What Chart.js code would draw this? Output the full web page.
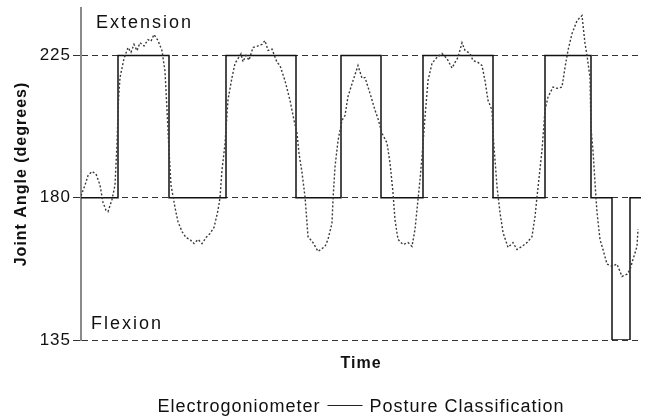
<!DOCTYPE html>
<html>
<head>
<meta charset="utf-8">
<script src="https://cdn.jsdelivr.net/npm/chart.js@4/dist/chart.umd.min.js"></script>
<style>
    html, body { margin: 0; padding: 0; background: #ffffff; }
    .chart-wrap { position: relative; width: 645px; height: 417px; }
</style>
</head>
<body>
<div class="chart-wrap"><canvas id="posture-chart"></canvas></div>
<script>
// Joint angle vs time - electrogoniometer trace and posture classification

// Electrogoniometer trace (time in arbitrary units, angle in degrees)
const goniTime = [
    0, 0.4, 0.7, 1.1, 1.5, 1.9, 2.2, 2.5, 2.7, 3.1, 3.4, 3.6, 3.75, 3.9, 4.3, 4.7, 5.0, 5.3, 5.6, 5.9,
    6.3, 6.7, 7.0, 7.3, 7.7, 8.1, 8.4, 8.6, 8.8, 9.0, 9.4, 9.7, 10.1, 10.5, 10.9, 11.3, 11.7, 12.1, 12.5, 12.9,
    13.3, 13.7, 13.9, 14.1, 14.4, 14.7, 15.1, 15.4, 15.7, 16.0, 16.2, 16.5, 16.8, 17.2, 17.7, 18.1, 18.4, 18.7, 19.1, 19.6,
    19.9, 20.4, 20.9, 21.3, 21.6, 21.8, 22.1, 22.4, 22.5, 22.7, 23.2, 23.7, 24.4, 24.7, 25.1, 25.2, 25.4, 25.7, 26.1, 26.4,
    26.7, 27.2, 27.7, 28.1, 28.4, 28.9, 29.4, 29.7, 30.1, 30.6, 30.9, 31.2, 31.4, 31.7, 32.2, 32.7, 33.1, 33.4, 33.7, 33.9,
    34.1, 34.4, 34.7, 35.1, 35.6, 36.1, 36.6, 37.1, 37.4, 37.7, 38.1, 38.4, 38.9, 39.2, 39.7, 40.1, 40.4, 40.7, 41.1, 41.2,
    41.4, 41.6, 41.9, 42.2, 42.7, 43.2, 43.6, 44.1, 44.6, 45.1, 45.4, 45.6, 46.1, 46.4, 46.7, 47.2, 47.6, 48.1, 48.4, 48.7,
    49.1, 49.6, 50.1, 50.4, 50.6, 50.9, 51.0, 51.2, 51.4, 51.6, 51.9, 52.2, 52.6, 53.1, 53.6, 54.1, 54.6, 54.9, 55.2, 55.6, 55.7
];
const goniAngle = [
    180.6, 184, 187, 188.3, 187.5, 184, 178.5, 176, 175.6, 179.4, 184, 197, 211, 218, 224, 227.5, 226, 228.5, 226.5, 229,
    228, 230, 229.5, 231.6, 229.7, 226.5, 220, 207.7, 195, 184, 176.9, 172.4, 169.3, 167.4, 166.8, 165.5, 166.8, 165.5, 167.4, 168.7,
    170.6, 176, 180, 188.8, 197, 211, 218, 222.5, 224, 225.5, 223, 225, 223.5, 227.5, 228, 228.5, 229.7, 226.6, 227, 222.8,
    221.8, 217, 210.8, 204.5, 200.4, 194, 188, 180.3, 176.2, 167.7, 165.8, 163, 164.6, 166.8, 172, 179.4, 189.8, 198, 204.5, 206,
    212, 217, 221.8, 217.8, 218, 213, 207.7, 205, 200.4, 197.3, 191, 181.6, 173, 166.8, 165.2, 165.8, 164.6, 170, 179.4, 185.7,
    192.9, 205.5, 217, 222.5, 224.4, 225.6, 224, 221, 222.8, 224.4, 229, 226.6, 225.6, 223.4, 222.8, 221.8, 217, 210.8, 207.7, 200.4,
    192, 183.5, 175.3, 169, 164.3, 165.8, 163.6, 164.6, 165.8, 167.7, 174, 180.3, 195, 207.7, 211.8, 215, 214.6, 215, 221.2, 226.6,
    231.9, 236, 237.6, 228.8, 225, 218, 202, 195, 184.7, 175.3, 166.8, 163.6, 159, 158.3, 159, 155.1, 155.8, 157.3, 160.5, 164.6, 170
];

// Posture classification: level held from each change time until the next
const postureTimes  = [0, 3.7, 8.8, 14.5, 21.5, 26.0, 30.0, 34.2, 41.2, 46.4, 51.0, 53.1, 54.9, 56];
const postureLevels = [180, 225, 180, 225, 180, 225, 180, 225, 180, 225, 180, 135, 180, 180];

// Axis ticks and labels
const yTicks = [135, 180, 225];
const seriesNames = ['Electrogoniometer', 'Posture Classification'];

const FONT = "'Liberation Sans', Arial, Helvetica, sans-serif";
Chart.defaults.font.family = FONT;
Chart.defaults.color = '#111';

// Extension / Flexion notes and the plain text legend under the axis
const notesPlugin = {
    id: 'notes',
    beforeDraw(chart) {
        chart.ctx.letterSpacing = '1px';
    },
    afterDraw(chart) {
        const ctx = chart.ctx;
        const area = chart.chartArea;
        ctx.save();
        ctx.fillStyle = '#111';
        ctx.textBaseline = 'alphabetic';
        ctx.textAlign = 'left';
        ctx.font = '18px ' + FONT;
        ctx.letterSpacing = '2px';
        ctx.fillText('Extension', area.left + 15, area.top + 20);
        ctx.fillText('Flexion', area.left + 10, area.bottom - 11);

        // legend: name, solid sample line, name
        ctx.letterSpacing = '1px';
        const w1 = ctx.measureText(seriesNames[0]).width;
        const w2 = ctx.measureText(seriesNames[1]).width;
        const gap = 7, lineLen = 35;
        const total = w1 + gap + lineLen + gap + w2;
        let x = (area.left + area.right) / 2 - total / 2;
        const baseY = 412;
        ctx.fillText(seriesNames[0], x, baseY);
        x += w1 + gap;
        ctx.strokeStyle = '#222';
        ctx.lineWidth = 1.2;
        ctx.beginPath();
        ctx.moveTo(x, baseY - 6.5);
        ctx.lineTo(x + lineLen, baseY - 6.5);
        ctx.stroke();
        x += lineLen + gap;
        ctx.fillText(seriesNames[1], x, baseY);
        ctx.restore();
    }
};

const ctx = document.getElementById('posture-chart').getContext('2d');

new Chart(ctx, {
    type: 'line',
    data: {
        datasets: [
            {
                label: seriesNames[0],
                data: goniTime.map((t, i) => ({ x: t, y: goniAngle[i] })),
                borderColor: '#3a3a3a',
                borderWidth: 1.4,
                borderDash: [2, 2],
                pointRadius: 0,
                tension: 0,
                fill: false
            },
            {
                label: seriesNames[1],
                data: postureTimes.map((t, i) => ({ x: t, y: postureLevels[i] })),
                borderColor: '#111',
                borderWidth: 1.5,
                stepped: true,
                pointRadius: 0,
                fill: false
            }
        ]
    },
    options: {
        responsive: true,
        maintainAspectRatio: false,
        animation: false,
        layout: {
            padding: { left: 0, right: 4, top: 8, bottom: 37 }
        },
        plugins: {
            legend: { display: false },
            tooltip: { enabled: false }
        },
        scales: {
            x: {
                type: 'linear',
                min: 0,
                max: 56,
                grid: { display: false },
                border: { display: false },
                ticks: { display: false },
                title: {
                    display: true,
                    text: 'Time',
                    color: '#111',
                    font: { size: 16, weight: 'bold' },
                    padding: { top: 0, bottom: 7 }
                },
                afterFit(scale) {
                    scale.height = 40;
                }
            },
            y: {
                min: 135,
                max: 240,
                afterBuildTicks(scale) {
                    scale.ticks = yTicks.map(v => ({ value: v }));
                },
                afterFit(scale) {
                    scale.width = 81;
                    scale.paddingTop = 0;
                    scale.paddingBottom = 0;
                },
                grid: {
                    color: '#333',
                    lineWidth: 1,
                    tickLength: 8,
                    tickColor: '#333',
                    tickWidth: 1
                },
                border: {
                    display: true,
                    color: '#8a8a8a',
                    width: 2,
                    dash: [6, 4]
                },
                ticks: {
                    color: '#111',
                    padding: 2,
                    font: { size: 17 }
                },
                title: {
                    display: true,
                    text: 'Joint Angle (degrees)',
                    color: '#111',
                    font: { size: 16, weight: 'bold' },
                    padding: { top: 12, bottom: 0 }
                }
            }
        }
    },
    plugins: [notesPlugin]
});
</script>
</body>
</html>
